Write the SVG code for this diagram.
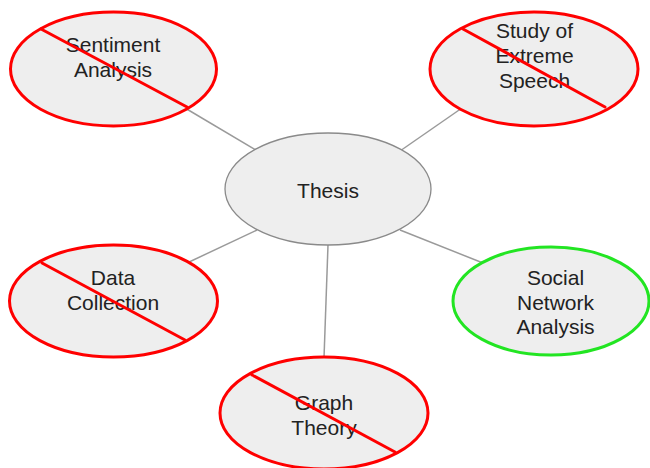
<svg xmlns="http://www.w3.org/2000/svg" width="650" height="468" viewBox="0 0 650 468">
  <style>
    .bubble { fill: #eeeeee; }
    .core { stroke: #8a8a8a; stroke-width: 1.3; }
    .dropped { stroke: #ff0000; stroke-width: 3; }
    .kept { stroke: #22e522; stroke-width: 3; }
    .strike { stroke: #ff0000; stroke-width: 3; stroke-linecap: round; }
    .link { stroke: #9a9a9a; stroke-width: 1.5; fill: none; }
    text { font-family: "Liberation Sans", Arial, sans-serif; font-size: 21px; fill: #222222; text-anchor: middle; }
  </style>
  <rect width="650" height="468" fill="#ffffff"/>

  <g id="connectors">
    <line class="link" x1="185" y1="108" x2="256" y2="150"/>
    <line class="link" x1="462" y1="108" x2="400" y2="151"/>
    <line class="link" x1="187" y1="263" x2="257" y2="230"/>
    <line class="link" x1="483" y1="263" x2="400" y2="230"/>
    <line class="link" x1="328" y1="245" x2="324" y2="358"/>
  </g>

  <g id="thesis">
    <ellipse class="bubble core" cx="328" cy="189" rx="103" ry="56"/>
    <text x="328" y="198">Thesis</text>
  </g>

  <g id="sentiment-analysis">
    <ellipse class="bubble dropped" cx="113.5" cy="69" rx="103" ry="57"/>
    <text x="113" y="52">Sentiment</text>
    <text x="113" y="77">Analysis</text>
    <line class="strike" x1="41" y1="29" x2="187" y2="107"/>
  </g>

  <g id="extreme-speech">
    <ellipse class="bubble dropped" cx="534" cy="69" rx="104" ry="57"/>
    <text x="534.5" y="38">Study of</text>
    <text x="534.5" y="63">Extreme</text>
    <text x="534.5" y="88">Speech</text>
    <line class="strike" x1="463" y1="29" x2="605" y2="107"/>
  </g>

  <g id="data-collection">
    <ellipse class="bubble dropped" cx="113.5" cy="301" rx="104" ry="56"/>
    <text x="113" y="285">Data</text>
    <text x="113" y="310">Collection</text>
    <line class="strike" x1="42" y1="263" x2="185" y2="340"/>
  </g>

  <g id="social-network-analysis">
    <ellipse class="bubble kept" cx="551" cy="301" rx="98" ry="54"/>
    <text x="555.5" y="285">Social</text>
    <text x="555.5" y="310">Network</text>
    <text x="555.5" y="334">Analysis</text>
  </g>

  <g id="graph-theory">
    <ellipse class="bubble dropped" cx="324" cy="413" rx="104" ry="56"/>
    <text x="324" y="410">Graph</text>
    <text x="324" y="435">Theory</text>
    <line class="strike" x1="252" y1="375" x2="395" y2="452"/>
  </g>
</svg>
